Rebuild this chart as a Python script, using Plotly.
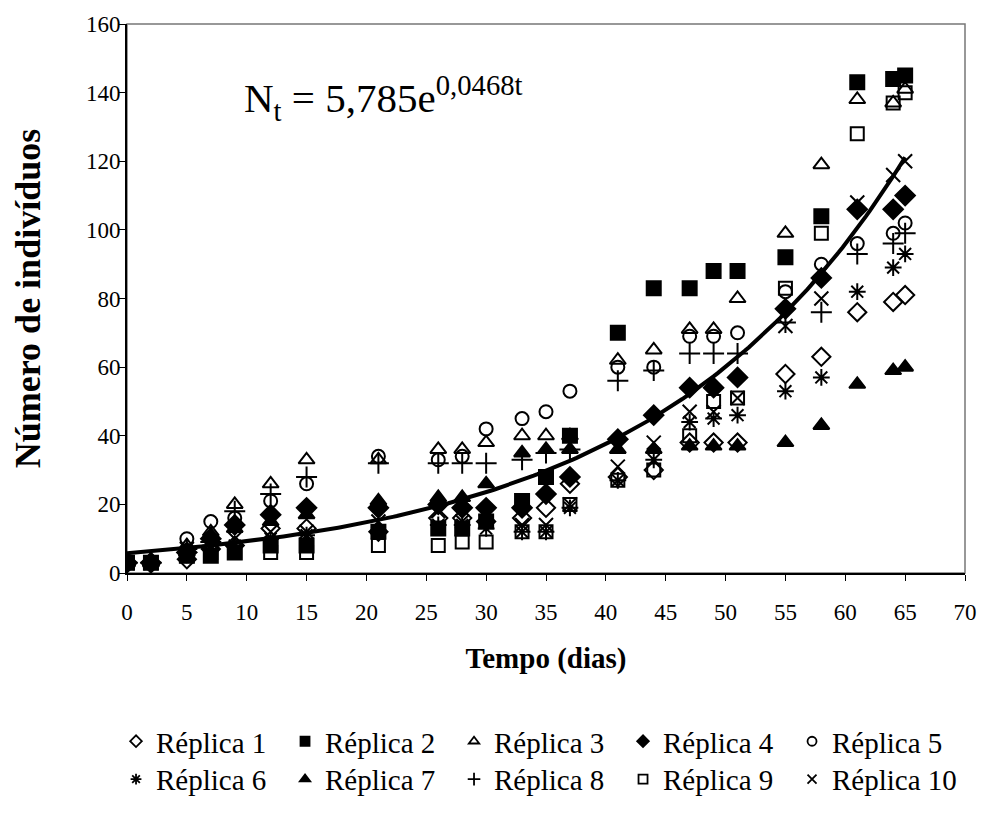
import numpy as np
import plotly.graph_objects as go

dias = [0, 2, 5, 7, 9, 12, 15, 21, 26, 28, 30, 33, 35, 37, 41, 44, 47, 49, 51, 55, 58, 61, 64, 65]

replica1 = [3, 3, 4, 7, 8, 13, 13, 12, 16, 16, 15, 16, 19, 26, 28, 30, 38, 38, 38, 58, 63, 76, 79, 81]
replica2 = [3, 3, 5, 5, 6, 8, 8, 12, 13, 13, 15, 21, 28, 40, 70, 83, 83, 88, 88, 92, 104, 143, 144, 145]
replica3 = [3, 3, 8, 12, 20, 26, 33, 33, 36, 36, 38, 40, 40, 40, 62, 65, 71, 71, 80, 99, 119, 138, 137, 141]
replica4 = [3, 3, 6, 10, 14, 17, 19, 19, 20, 19, 19, 19, 23, 28, 39, 46, 54, 54, 57, 77, 86, 106, 106, 110]
replica5 = [3, 3, 10, 15, 16, 21, 26, 34, 33, 34, 42, 45, 47, 53, 60, 60, 69, 69, 70, 82, 90, 96, 99, 102]
replica6 = [3, 3, 6, 8, 8, 10, 11, 12, 14, 14, 13, 12, 12, 19, 27, 33, 44, 45, 46, 53, 57, 82, 89, 93]
replica7 = [3, 3, 6, 11, 13, 15, 17, 21, 22, 22, 26, 35, 36, 36, 36, 36, 37, 37, 37, 38, 43, 55, 59, 60]
replica8 = [3, 3, 7, 9, 18, 23, 28, 32, 32, 32, 32, 33, 35, 36, 56, 59, 64, 64, 64, 73, 76, 93, 96, 99]
replica9 = [3, 3, 5, 6, 6, 6, 6, 8, 8, 9, 9, 12, 12, 20, 27, 30, 40, 50, 51, 83, 99, 128, 137, 140]
replica10 = [3, 3, 7, 9, 10, 12, 12, 15, 18, 15, 15, 14, 14, 20, 31, 38, 47, 47, 51, 72, 80, 108, 116, 120]

nomes = ["Réplica 1", "Réplica 2", "Réplica 3", "Réplica 4", "Réplica 5",
         "Réplica 6", "Réplica 7", "Réplica 8", "Réplica 9", "Réplica 10"]

# fitted model N_t = a * exp(b t)
a_fit = 5.785
b_fit = 0.0468

x_ticks = [0, 5, 10, 15, 20, 25, 30, 35, 40, 45, 50, 55, 60, 65, 70]
y_ticks = [0, 20, 40, 60, 80, 100, 120, 140, 160]

series = [replica1, replica2, replica3, replica4, replica5,
          replica6, replica7, replica8, replica9, replica10]
symbols = ["diamond-open", "square", "triangle-up-open", "diamond", "circle-open",
           "asterisk-open", "triangle-up", "cross-thin-open", "square-open", "x-thin-open"]
sizes = [14, 14, 14, 15, 13, 14, 14, 15, 13, 14]

FONT = "Liberation Serif"
fig = go.Figure()

for i, (vals, sym, nm) in enumerate(zip(series, symbols, nomes)):
    fig.add_trace(go.Scatter(
        x=dias, y=vals, mode="markers", name=nm, showlegend=False,
        marker=dict(symbol=sym, size=sizes[i], color="black",
                    line=dict(color="black", width=2)),
    ))

# legend-only entries with smaller symbols, as in the reference legend
for i, (sym, nm) in enumerate(zip(symbols, nomes)):
    fig.add_trace(go.Scatter(
        x=[None], y=[None], mode="markers", name=nm,
        marker=dict(symbol=sym, size=9, color="black",
                    line=dict(color="black", width=1.8)),
        legend="legend" if i < 5 else "legend2",
    ))

t_curve = np.linspace(0, 65, 200)
fig.add_trace(go.Scatter(
    x=t_curve, y=a_fit * np.exp(b_fit * t_curve), mode="lines",
    line=dict(color="black", width=4), showlegend=False, hoverinfo="skip"))

fig.add_annotation(
    x=9.6, y=138.5, xref="x", yref="y", xanchor="left", yanchor="middle",
    text="N<sub>t</sub> = 5,785e<sup>0,0468t</sup>", showarrow=False,
    font=dict(family=FONT, size=41, color="black"))

# plot frame (top and right in grey)
fig.add_shape(type="rect", xref="paper", yref="paper", x0=0, x1=1, y0=0, y1=1,
              line=dict(color="#777777", width=1.5), layer="below")

legend_common = dict(orientation="h", xanchor="left", yanchor="middle",
                     font=dict(family=FONT, size=29, color="black"),
                     entrywidth=124, entrywidthmode="pixels",
                     itemwidth=30, bgcolor="rgba(0,0,0,0)", traceorder="normal",
                     itemsizing="trace")

fig.update_layout(
    width=989, height=830,
    margin=dict(l=127, r=22, t=22, b=257),
    plot_bgcolor="white", paper_bgcolor="white",
    font=dict(family=FONT, size=23, color="black"),
    legend=dict(x=(116 - 127) / 840, y=(573 - 742) / 551, **legend_common),
    legend2=dict(x=(116 - 127) / 840, y=(573 - 780) / 551, **legend_common),
    xaxis=dict(range=[0, 70], tickvals=x_ticks, showgrid=False, zeroline=False,
               showline=True, linecolor="black", linewidth=2,
               ticks="outside", ticklen=6, tickwidth=1, tickcolor="black",
               tickfont=dict(family=FONT, size=23), ticklabelstandoff=11,
               title=dict(text="<b>Tempo (dias)</b>", font=dict(family=FONT, size=29), standoff=24)),
    yaxis=dict(range=[0, 160], tickvals=y_ticks, showgrid=False, zeroline=False,
               showline=True, linecolor="black", linewidth=2,
               ticks="outside", ticklen=6, tickwidth=1, tickcolor="black",
               tickfont=dict(family=FONT, size=23), ticklabelstandoff=-6,
               title=dict(text="<b>Número de indivíduos</b>", font=dict(family=FONT, size=36), standoff=34)),
)

fig.write_html("out.html")
